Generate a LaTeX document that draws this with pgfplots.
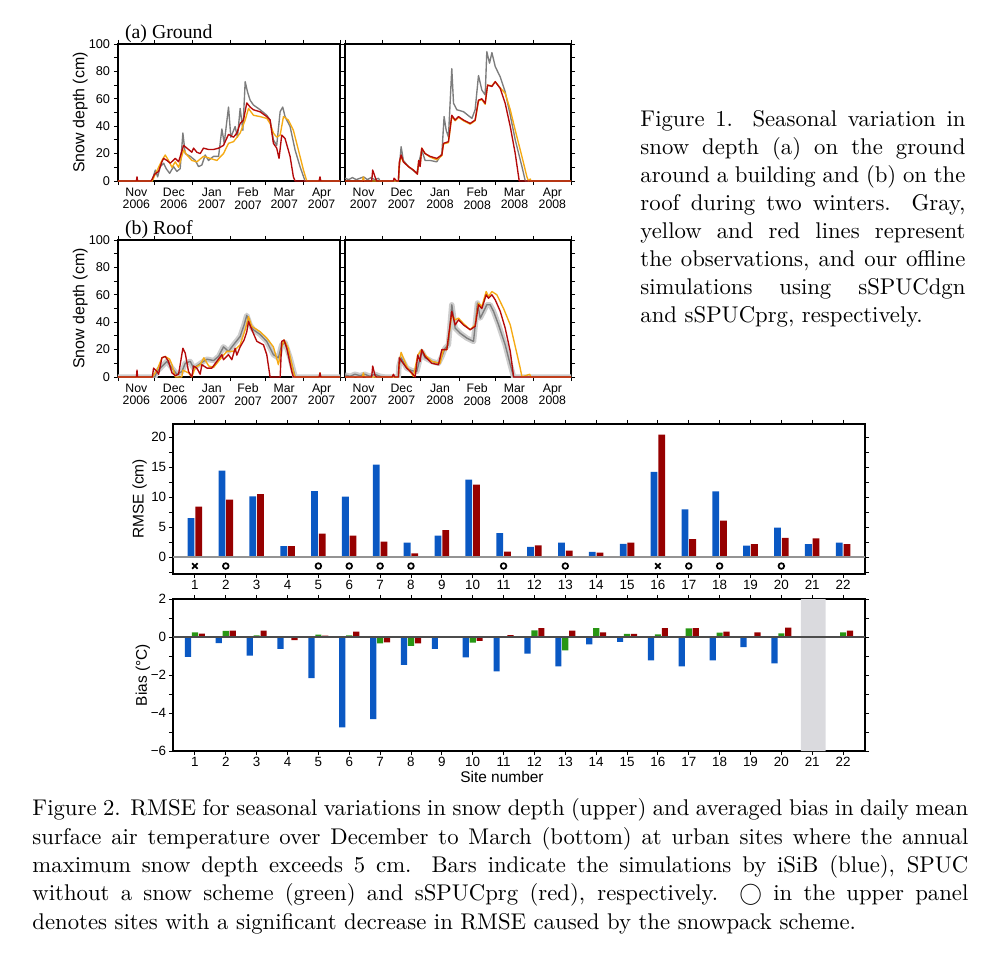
\documentclass[border=0pt]{standalone}
\usepackage{fontspec}
\usepackage{pgfplots}
\usepackage{pgfplotstable}
\pgfplotsset{compat=1.18}
\newfontfamily\hv{Liberation Sans}
\newfontfamily\tm{Liberation Serif}
\definecolor{obs}{RGB}{125,125,125}
\definecolor{dgn}{RGB}{245,170,20}
\definecolor{prg}{RGB}{180,10,10}
\definecolor{envl}{RGB}{205,205,205}
\definecolor{cblue}{RGB}{10,88,195}
\definecolor{cgreen}{RGB}{40,150,20}
\definecolor{cred}{RGB}{150,0,0}
\definecolor{band}{RGB}{218,218,222}

% ---------- (a) Ground 2006-07 ----------
\pgfplotstableread{
d cm
0 0
27.7 0
30.4 8
32.3 3
34.5 10.5
37.2 13
39.3 9
42.1 5.6
45.3 10.5
48 7
50.7 9
52.9 35
54.8 20
58.9 18
63 15
65.7 10.5
68.4 11.7
71.1 19
73.8 15
77.9 18
82 18
84.7 38
86.6 27.5
90.1 54
92 32
95.5 39.7
97.4 32
99.6 53
101.8 37
103.7 72.5
105.6 65
107.7 59
110.4 55.5
115.9 52
121.3 48
124 44.5
126.7 30
129.4 26
132.2 50.6
134.3 54
136.2 47
140.3 39.7
144.4 22.6
148.4 10.5
152.5 0
181 0
}\ALobs
\pgfplotstableread{
d cm
0 0
28 0
29.9 4
33.1 10
35.8 15
38.5 19
41.2 15
44 10
46.7 14
49.4 10
53.5 22.6
56.2 19
60.2 15
64.3 14
69.7 18
75.2 16.5
80.6 15
86 20
90.1 27.5
94.2 28.7
99.6 35
103.7 44.5
106.4 53
110.4 48
115.9 47
121.3 45.7
124 42
126.7 35
129.4 32
132.2 33.5
134.9 47
138.9 44.5
143 37
147.1 22.6
151.2 8
153.9 0
164 0
164.7 2.5
165.3 0
181 0
}\ALdgn
\pgfplotstableread{
d cm
0 0
15 0
15.5 3
16 0
27 0
29.9 5
33.1 7
35.8 14
37.2 16.5
39.9 15
42.6 13
46.7 16.5
49.4 14
53.5 26
56.2 24
60.2 21
61.6 24
64.3 21
67 20
69.7 24
73.8 23
77.9 23
82 24
86 26
90.1 34
94.2 32
96.9 35
99.6 42
102.3 44.5
105 57
107.7 54
110.4 52
115.9 50.5
121.3 47
124 44.5
126.7 27.5
129.4 24
131.3 16.5
133.5 33.5
136.2 31
140.3 18
143 3
144.4 0
164 0
164.7 3
165.3 0
181 0
}\ALprg

% ---------- (a) Ground 2007-08 ----------
\pgfplotstableread{
d cm
0 2
3 1
6 2.5
9 1
12 2
15 3
18 1
21 2.5
24 1
27 2
28.2 0
43 0
43.8 10.5
45.2 25
47 15
51.1 10.5
57.8 5.6
59.4 13
61.8 22.6
64.5 15
68.5 15
73.9 14
78 20
79.8 47
81.5 37
83.3 32
86 82
87.4 56.7
90.1 52
95.4 50.6
102.2 45.7
104.8 52
107.5 77
110.2 66.4
112.9 62.8
114.2 94.4
116.4 86
118.3 93.7
121 83.5
125 76
129 65
133.1 48
137.1 30
142.5 10.5
145.2 0
182 0
}\ARobs
\pgfplotstableread{
d cm
0 0
14 0
14.8 3
15.5 0
43 0
43.8 13
45.2 18
47 14
51.1 10.5
55.1 8
58.3 5
59.4 15
60.5 11
61.8 24
64.5 20
68.5 17.5
73.9 15.5
78 18.5
79.3 27
83.3 28
86 47
88.7 44
91.4 46.5
95.4 44
100.8 41.5
104.8 44
107.5 58.5
110.2 59.5
112.9 56
114.8 70
118.3 69.5
121 72.5
125 68
129 64
133.1 52
137.1 37
142.5 17.8
146.5 3
147.8 0
149.2 1.5
149.7 0
182 0
}\ARdgn
\pgfplotstableread{
d cm
0 0
21.5 0
22.3 8
24.2 3
25.5 0
39 0
39.5 2
41.7 0
43 0
43.8 14
45.2 19
47 14
51.1 10.5
55.1 8
58.3 5
59.4 15
60.5 10.5
61.8 24
64.5 20
68.5 18
73.9 16.5
78 19
79.3 27.5
83.3 28.7
86 48
88.7 44.5
91.4 47
95.4 44.5
100.8 42
104.8 44.5
107.5 59
110.2 60
112.9 56.7
114.8 70
118.3 69
121 72.5
125 67.6
129 56.7
133.1 39.7
137.1 20
140.3 0
182 0
}\ARprg

% ---------- (b) Roof 2006-07 ----------
\pgfplotstableread{
d cm
0 0
30 0
31.8 4
37.2 9
39.9 11.4
44 6.5
48 2
52.1 4
54.8 10
58.9 11.4
61.6 6.5
69.7 11.4
72.5 13
77.9 12
82 15
86 22
90.1 18.7
94.2 23.5
99.6 29.6
102.8 38
105 45
107.7 38
110.4 34.5
115.9 31
121.3 26
126.7 16.3
130.8 14
133.5 23.5
136.2 25
140.3 14
144.4 0
181 0
}\BLobs
\pgfplotstableread{
d cm
0 0
28 0
31.8 5
35.8 14
38.5 15
42.1 13
44 9
46.7 0
52 0
52.9 5
57.5 3
60.2 0
63 7
67 9
70 14
74 8
77.9 7
83.3 13
88.7 18.7
94.2 18.7
99.6 23.5
103.7 34.5
106.4 44
109.1 37
115.9 33
121.3 28.4
126.7 22
130.8 9
133.5 22
135.4 27
138.9 21
143 4
144.4 0
164 0
164.7 3
165.3 0
181 0
}\BLdgn
\pgfplotstableread{
d cm
0 0
15 0
15.5 5
16 0
28 0
29 6.5
31.8 4
33.1 2
35.8 14
38.5 15
41.2 11.4
44 3
46.7 1
49.4 2
52.9 21
54.8 17.5
57.5 4
60.2 0
61.6 8
64.3 6.5
67 2
68.4 9
72.5 6.5
76.5 6.5
80.6 11.4
84.7 16.3
86 12.6
90.1 16.3
92.8 12.6
95.5 21
96.9 16
99.6 22
102.8 27
105 33
106.4 40.5
109.1 34.5
113.2 26
118.6 23.5
121.3 16.3
124 0
132.2 0
133.5 26
135.4 27
137.6 21
141.7 4
143 0
164 0
164.7 3
165.3 0
181 0
}\BLprg

% ---------- (b) Roof 2007-08 ----------
\pgfplotstableread{
d cm
0 1.5
4 0.5
8 2
12 1
16 2
20 0.5
24 2
28.2 0.5
32 0
43 0
43.4 7.8
45.2 14
49.7 6.5
53.8 4.6
57.8 4
61.8 18.7
64.5 14
69.9 11.4
75.3 10
78 15
80.6 21
83.3 23.5
86 52.7
88.7 35.7
92.7 32
98.1 28.4
103.5 26
106.7 54
108.9 43
111.6 47.8
114.2 52.7
116.9 52.7
119.6 48
123.7 38
129 23.5
133.1 9
135.8 0
182 0
}\BRobs
\pgfplotstableread{
d cm
0 0
14 0
14.8 3
15.5 0
43 0
43.8 11.4
45.2 18
49.7 7.8
55.1 0.5
58.6 16
61.8 20
64.5 16
69.9 11.4
76.6 10
79.3 20
82 20
86 45.6
88.7 41.7
91.4 43
95.4 39
100.8 34.5
104.8 38
107.5 53.9
110.2 51.5
113.7 62.4
115.6 58.7
118.3 62.4
122.3 60
127.7 50
133.1 38
137.1 22.3
141.1 6.5
142.5 0
148.7 2
149.7 0
182 0
}\BRdgn
\pgfplotstableread{
d cm
0 0
21.5 0
22.3 8
24.2 1
25.5 0
38 0
39 2
40 0
43 0
43.8 14
45.7 11.4
49.7 6.5
53.8 3
56.5 0
58.6 16
60.5 11.4
61.8 20
64.5 15
69.9 10
75.3 9
78 20
82 20
86 48
88.7 38
91.4 41.7
95.4 38
100.8 34.5
104.8 37
107.5 52.7
110.2 50
113.7 60
115.6 57.5
118.3 60
121 56.3
125 48
129 35.7
133.1 18.7
135.8 0
182 0
}\BRprg

\pgfplotsset{
  snowax/.style={
    scale only axis, width=97.68pt, height=60.28pt,
    ymin=0, ymax=100, ytick={0,20,...,100}, minor ytick={10,30,50,70,90},
    tick align=outside, major tick length=1.8pt, minor tick length=1.8pt,
    tick style={black, line width=0.4pt},
    axis line style={line width=0.7pt},
    major x tick style={draw=none},
    xticklabel style={align=center, font=\hv\fontsize{5.4}{5.5}\selectfont, inner sep=1pt},
    yticklabel style={font=\hv\fontsize{5.6}{6}\selectfont, inner sep=1.5pt},
    /pgf/number format/assume math mode=true,
    every axis plot/.append style={line width=0.6pt, line join=round, mark=none},
    ylabel style={font=\hv\fontsize{7}{8}\selectfont},
    ylabel shift=-4.5pt,
    every axis title/.style={at={(0.03,1)}, anchor=base west, yshift=2.6pt, inner sep=0pt, font=\tm\fontsize{8.7}{9}\selectfont},
  },
  s0607/.style={xmin=0, xmax=181, xtick={15,45.5,76.5,106,135.5,166},
    minor xtick={0,30,61,92,120,151,181},
    xticklabels={{Nov\\2006},{Dec\\2006},{Jan\\2007},{Feb\\2007},{Mar\\2007},{Apr\\2007}},
    ylabel={Snow depth (cm)}},
  s0708/.style={xmin=0, xmax=182, xtick={15,45.5,76.5,106.5,136.5,167},
    minor xtick={0,30,61,92,121,152,182},
    xticklabels={{Nov\\2007},{Dec\\2007},{Jan\\2008},{Feb\\2008},{Mar\\2008},{Apr\\2008}},
    yticklabels={}},
  barax/.style={
    scale only axis, width=304.48pt, xmin=0.29, xmax=22.71, xtick={1,...,22},
    tick align=outside, major tick length=1.8pt, minor tick length=1.8pt,
    tick style={black, line width=0.4pt},
    axis line style={line width=0.7pt},
    ticklabel style={font=\hv\fontsize{5.9}{6.5}\selectfont},
    xticklabel style={yshift=2.5pt},
    yticklabel style={inner sep=1pt},
    /pgf/number format/assume math mode=true,
    label style={font=\hv\fontsize{6.8}{7.5}\selectfont},
  },
}

\newcommand{\jl}[2]{\makebox[#1][s]{#2}\\}

\begin{document}
\begin{tikzpicture}
\useasboundingbox (0,0) rectangle (442.2pt,-420.2pt);

% (a) Ground
\begin{axis}[snowax, s0607, at={(51.92pt,-79.64pt)}, anchor=south west, title={(a) Ground}]
\addplot[obs] table[x=d,y=cm] {\ALobs};
\addplot[dgn] table[x=d,y=cm] {\ALdgn};
\addplot[prg] table[x=d,y=cm] {\ALprg};
\end{axis}
\begin{axis}[snowax, s0708, width=99.44pt, at={(151.8pt,-79.64pt)}, anchor=south west]
\addplot[obs] table[x=d,y=cm] {\ARobs};
\addplot[dgn] table[x=d,y=cm] {\ARdgn};
\addplot[prg] table[x=d,y=cm] {\ARprg};
\end{axis}

% (b) Roof
\begin{axis}[snowax, s0607, at={(51.92pt,-165.88pt)}, anchor=south west, title={(b) Roof}]
\addplot[envl, line width=2.4pt] table[x=d,y=cm] {\BLobs};
\addplot[obs] table[x=d,y=cm] {\BLobs};
\addplot[dgn] table[x=d,y=cm] {\BLdgn};
\addplot[prg] table[x=d,y=cm] {\BLprg};
\end{axis}
\begin{axis}[snowax, s0708, width=99.44pt, at={(151.8pt,-165.88pt)}, anchor=south west]
\addplot[envl, line width=2.4pt] table[x=d,y=cm] {\BRobs};
\addplot[obs] table[x=d,y=cm] {\BRobs};
\addplot[dgn] table[x=d,y=cm] {\BRdgn};
\addplot[prg] table[x=d,y=cm] {\BRprg};
\end{axis}

% RMSE
\begin{axis}[barax, height=66pt, at={(76.12pt,-252.56pt)}, anchor=south west,
  ymin=-2.83, ymax=22.17, ytick={0,5,...,20}, minor ytick={-2.5,2.5,7.5,12.5,17.5},
  ylabel={RMSE (cm)}, ylabel shift=-2.6pt]
\addplot[ybar, bar width=0.22, bar shift=-0.125, fill=cblue, draw=none] coordinates {
(1,6.5) (2,14.4) (3,10.1) (4,1.8) (5,11.0) (6,10.05) (7,15.4) (8,2.4) (9,3.55) (10,12.9) (11,4.0)
(12,1.7) (13,2.4) (14,0.85) (15,2.2) (16,14.2) (17,7.95) (18,10.95) (19,1.9) (20,4.9) (21,2.15) (22,2.4)};
\addplot[ybar, bar width=0.22, bar shift=0.125, fill=cred, draw=none] coordinates {
(1,8.4) (2,9.55) (3,10.5) (4,1.8) (5,3.9) (6,3.55) (7,2.55) (8,0.6) (9,4.5) (10,12.05) (11,0.9)
(12,1.95) (13,1.05) (14,0.72) (15,2.4) (16,20.4) (17,3.0) (18,6.05) (19,2.15) (20,3.2) (21,3.1) (22,2.15)};
\addplot[gray!85, line width=0.8pt] coordinates {(0.29,0) (22.71,0)};
\addplot[only marks, mark=o, mark size=1.25pt, line width=0.75pt, black] coordinates {
(2,-1.5) (5,-1.5) (6,-1.5) (7,-1.5) (8,-1.5) (11,-1.5) (13,-1.5) (17,-1.5) (18,-1.5) (20,-1.5)};
\addplot[only marks, mark=x, mark size=1.7pt, line width=0.8pt, black] coordinates {(1,-1.5) (16,-1.5)};
\end{axis}

% Bias
\begin{axis}[barax, height=66.88pt, at={(76.12pt,-330.44pt)}, anchor=south west,
  ymin=-6, ymax=2, ytick={-6,-4,...,2}, minor ytick={-5,-3,-1,1},
  yticklabels={−6,−4,−2,0,2},
  ylabel={Bias (°C)}, ylabel shift=-4.2pt, xlabel={Site number}, xlabel style={xshift=-7.5pt, yshift=5pt}]
\addplot[ybar, bar width=0.8, bar shift=0, fill=band, draw=none] coordinates {(21.03,2) (21.03,-6)};
\addplot[ybar, bar width=0.2, bar shift=-0.225, fill=cblue, draw=none] coordinates {
(1,-1.05) (2,-0.32) (3,-0.98) (4,-0.63) (5,-2.16) (6,-4.75) (7,-4.32) (8,-1.47) (9,-0.63) (10,-1.07) (11,-1.81)
(12,-0.88) (13,-1.54) (14,-0.39) (15,-0.26) (16,-1.23) (17,-1.54) (18,-1.23) (19,-0.53) (20,-1.39) (22,-0.05)};
\addplot[ybar, bar width=0.2, bar shift=0, fill=cgreen, draw=none] coordinates {
(1,0.25) (2,0.32) (3,0.09) (4,-0.05) (5,0.12) (6,0.09) (7,-0.33) (8,-0.47) (9,-0.02) (10,-0.3) (11,-0.02)
(12,0.35) (13,-0.7) (14,0.47) (15,0.16) (16,0.14) (17,0.46) (18,0.23) (20,0.19) (22,0.25)};
\addplot[ybar, bar width=0.2, bar shift=0.225, fill=cred, draw=none] coordinates {
(1,0.18) (2,0.33) (3,0.33) (4,-0.16) (5,0.07) (6,0.28) (7,-0.28) (8,-0.33) (10,-0.21) (11,0.1)
(12,0.47) (13,0.33) (14,0.25) (15,0.16) (16,0.47) (17,0.47) (18,0.28) (19,0.25) (20,0.49) (22,0.33)};
\addplot[black!70, line width=0.6pt] coordinates {(0.29,0) (22.71,0)};
\end{axis}

% Captions
\node[anchor=north west, inner sep=0pt, align=left, font=\fontsize{10}{12.3}\selectfont] at (281.6pt,-48.6pt) {%
\jl{143pt}{Figure 1. Seasonal variation in}
\jl{143pt}{snow depth (a) on the ground}
\jl{143pt}{around a building and (b) on the}
\jl{143pt}{roof during two winters. Gray,}
\jl{143pt}{yellow and red lines represent}
\jl{143pt}{the observations, and our offline}
\jl{143pt}{simulations using sSPUCdgn}
and sSPUCprg, respectively.};

\node[anchor=north west, inner sep=0pt, align=left, font=\fontsize{10}{12.5}\selectfont] at (14.08pt,-351.2pt) {%
\jl{411.8pt}{Figure 2. RMSE for seasonal variations in snow depth (upper) and averaged bias in daily mean}
\jl{411.8pt}{surface air temperature over December to March (bottom) at urban sites where the annual}
\jl{411.8pt}{maximum snow depth exceeds 5 cm. Bars indicate the simulations by iSiB (blue), SPUC}
\jl{411.8pt}{without a snow scheme (green) and sSPUCprg (red), respectively. $\bigcirc$ in the upper panel}
denotes sites with a significant decrease in RMSE caused by the snowpack scheme.};
\end{tikzpicture}
\end{document}
